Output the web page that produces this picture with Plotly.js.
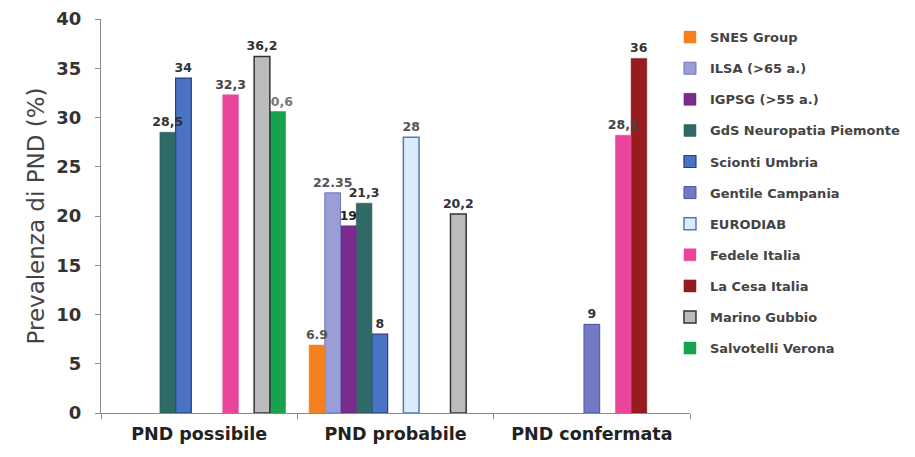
<!DOCTYPE html>
<html>
<head>
<meta charset="utf-8">
<script src="https://cdn.plot.ly/plotly-3.0.1.min.js"></script>
<style>
  html, body { margin: 0; padding: 0; background: #ffffff; }
  #chart { width: 915px; height: 457px; }
</style>
</head>
<body>
<div id="chart"></div>
<script>
// Categories on the x axis
const categories = ["PND possibile", "PND probabile", "PND confermata"];

// Study names (legend order)
const studies = [
  "SNES Group",
  "ILSA (>65 a.)",
  "IGPSG (>55 a.)",
  "GdS Neuropatia Piemonte",
  "Scionti Umbria",
  "Gentile Campania",
  "EURODIAB",
  "Fedele Italia",
  "La Cesa Italia",
  "Marino Gubbio",
  "Salvotelli Verona"
];

// Prevalence (%) per study for each category (null = not reported)
const snesGroup       = [null, 6.9, null];
const ilsa            = [null, 22.35, null];
const igpsg           = [null, 19, null];
const gdsPiemonte     = [28.5, 21.3, null];
const sciontiUmbria   = [34, 8, null];
const gentileCampania = [null, null, 9];
const eurodiab        = [null, 28, null];
const fedeleItalia    = [32.3, null, 28.2];
const laCesaItalia    = [null, null, 36];
const marinoGubbio    = [36.2, 20.2, null];
const salvotelli      = [30.6, null, null];

// Value labels as printed above the bars
const snesLabels     = ["", "6.9", ""];
const ilsaLabels     = ["", "22.35", ""];
const igpsgLabels    = ["", "19", ""];
const gdsLabels      = ["28,5", "21,3", ""];
const sciontiLabels  = ["34", "8", ""];
const gentileLabels  = ["", "", "9"];
const eurodiabLabels = ["", "28", ""];
const fedeleLabels   = ["32,3", "", "28,2"];
const laCesaLabels   = ["", "", "36"];
const marinoLabels   = ["36,2", "20,2", ""];
const salvoLabels    = ["30,6", "", ""];

const seriesValues = [snesGroup, ilsa, igpsg, gdsPiemonte, sciontiUmbria, gentileCampania,
                      eurodiab, fedeleItalia, laCesaItalia, marinoGubbio, salvotelli];
const seriesLabels = [snesLabels, ilsaLabels, igpsgLabels, gdsLabels, sciontiLabels, gentileLabels,
                      eurodiabLabels, fedeleLabels, laCesaLabels, marinoLabels, salvoLabels];

// Bar fill and outline styles
const fills = ["#f4801f", "#9a9ed6", "#7a2b8c", "#2f6a67", "#4b73c4", "#7479c4",
               "#d9ecf9", "#e9469b", "#971c1f", "#bcbcbc", "#17a24b"];
const outlines = ["#f4801f", "#6f74c0", "#5a1f6a", "#245856", "#233f80", "#4c52a8",
                  "#5677c0", "#e9469b", "#7a1215", "#333333", "#17a24b"];
const outlineWidths = [0.5, 1, 0.5, 0.5, 1.2, 1, 1.5, 0.5, 0.5, 1.5, 0.5];
const labelColors = ["#555", "#555", "#222", "#333", "#333", "#333",
                     "#555", "#444", "#333", "#333", "#777"];

const labelFont = "DejaVu Sans, sans-serif";

// Each study keeps a fixed slot inside its category group
const groupWidth = 0.88;
const slotWidth = groupWidth / studies.length;

const traces = studies.map((name, i) => ({
  type: "bar",
  name: name,
  x: categories,
  y: seriesValues[i],
  offset: -groupWidth / 2 + i * slotWidth,
  width: slotWidth,
  text: seriesLabels[i],
  textposition: "outside",
  constraintext: "none",
  cliponaxis: false,
  textfont: { family: labelFont, size: 12.5, color: labelColors[i], weight: "bold" },
  marker: { color: fills[i], line: { color: outlines[i], width: outlineWidths[i] } },
  legendgroup: "study" + i,
  legendrank: i + 1,
  hoverinfo: "name+y"
}));

// Draw the last study first so every value label sits above its right-hand neighbour
traces.reverse();

const layout = {
  width: 915,
  height: 457,
  margin: { l: 101, r: 225, t: 19, b: 44, autoexpand: false },
  paper_bgcolor: "#ffffff",
  plot_bgcolor: "#ffffff",
  barmode: "overlay",
  font: { family: labelFont, color: "#333" },
  xaxis: {
    type: "category",
    showline: true,
    linecolor: "#8a8a8a",
    linewidth: 1,
    ticks: "outside",
    tickson: "boundaries",
    ticklen: 5,
    tickcolor: "#8a8a8a",
    ticklabelstandoff: 5,
    tickfont: { family: labelFont, size: 17.5, color: "#222", weight: "bold" },
    showgrid: false,
    zeroline: false
  },
  yaxis: {
    range: [0, 40],
    dtick: 5,
    showline: true,
    linecolor: "#8a8a8a",
    linewidth: 1,
    ticks: "outside",
    ticklen: 5,
    tickcolor: "#8a8a8a",
    ticklabelstandoff: 10,
    tickfont: { family: labelFont, size: 18, color: "#333", weight: "bold" },
    showgrid: false,
    zeroline: false,
    title: { text: "Prevalenza di PND (%)", font: { family: labelFont, size: 23, color: "#444" }, standoff: 5 }
  },
  showlegend: true,
  legend: {
    x: 0.966,
    xanchor: "left",
    y: 0.992,
    yanchor: "top",
    traceorder: "grouped",
    tracegroupgap: 11.2,
    itemwidth: 30,
    font: { family: labelFont, size: 13, color: "#444", weight: "bold" },
    bgcolor: "rgba(0,0,0,0)"
  }
};

Plotly.newPlot("chart", traces, layout, { displayModeBar: false, staticPlot: true });
</script>
</body>
</html>
